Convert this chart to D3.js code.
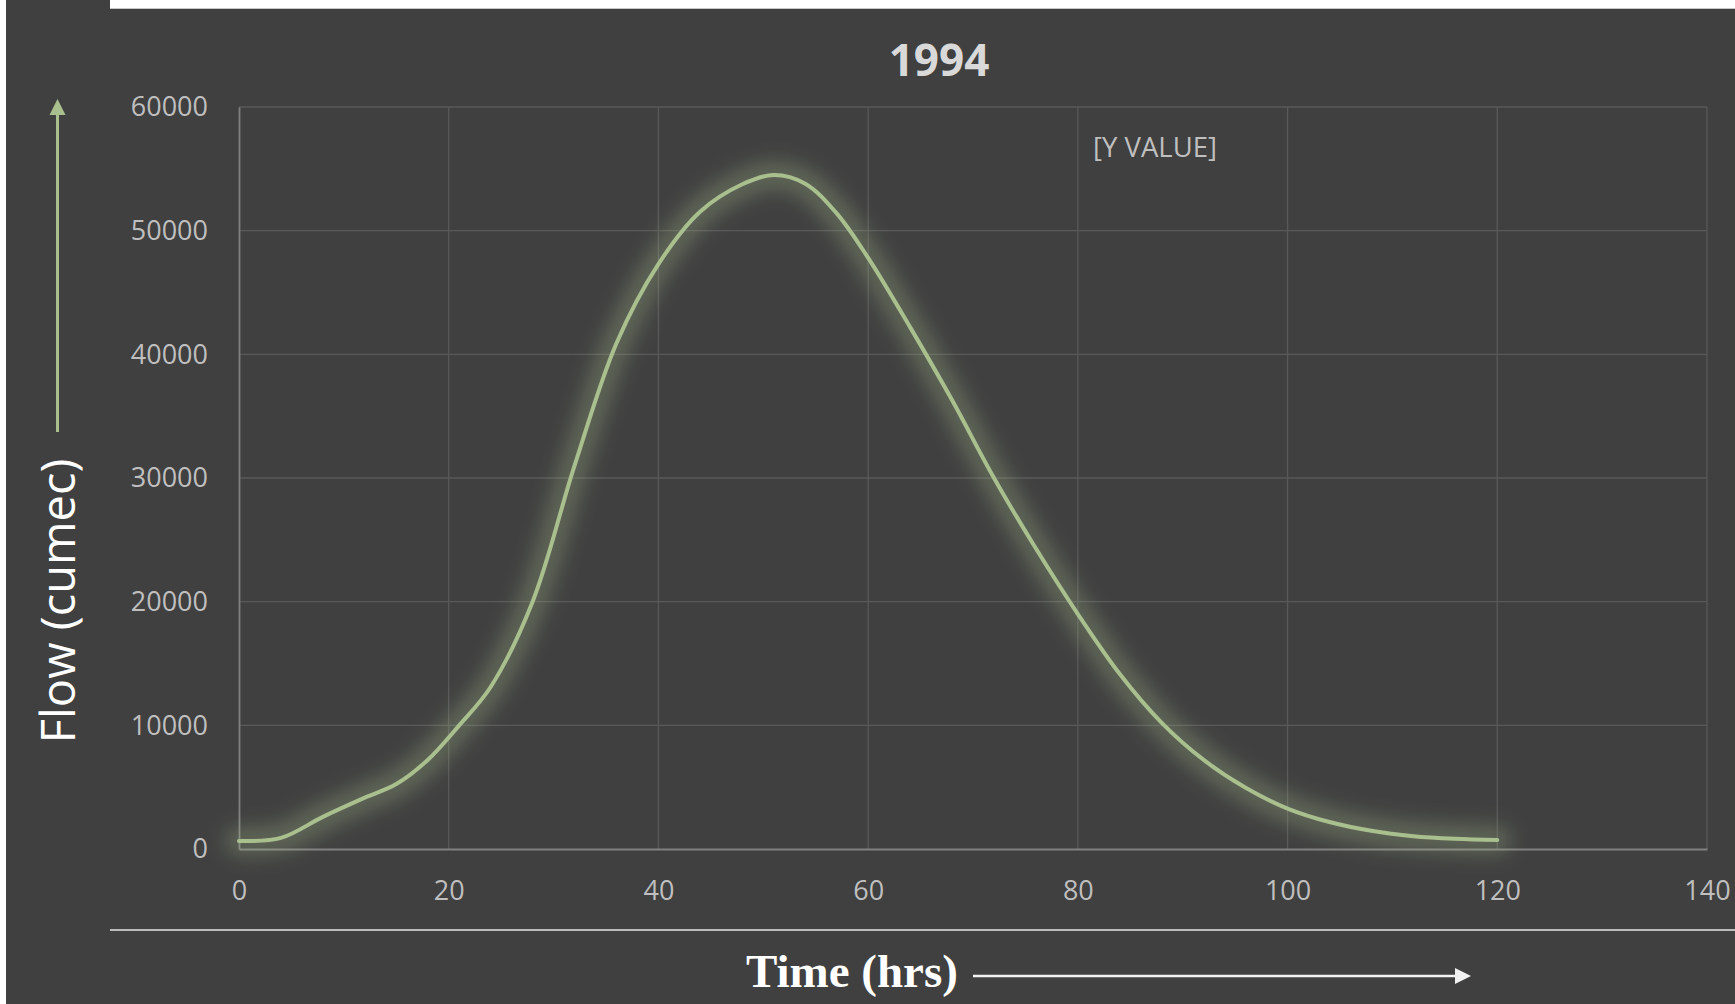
<!DOCTYPE html>
<html>
<head>
<meta charset="utf-8">
<script src="https://cdn.jsdelivr.net/npm/d3@7"></script>
<style>
  html, body { margin: 0; padding: 0; background: #ffffff; }
  svg { display: block; }
</style>
</head>
<body>
<svg id="chart" width="1735" height="1004"></svg>
<script>
// Flood hydrograph, 1994: time since start (hrs) and flow (cumec)
const timeHrs = [0, 4, 8, 12, 15, 18, 21, 24, 28, 32, 36, 40, 44, 48, 51, 54, 57, 60,
                 64, 68, 72, 76, 80, 84, 88, 92, 96, 100, 104, 108, 112, 116, 120];
const flowCumec = [650, 900, 2600, 4150, 5250, 7200, 10000, 13100, 20000, 31000, 40900, 47300,
                   51550, 53750, 54500, 53800, 51400, 47800, 42200, 36300, 30000, 24300, 19000,
                   14150, 10200, 7200, 4950, 3270, 2180, 1470, 1040, 830, 730];

const xTicks = [0, 20, 40, 60, 80, 100, 120, 140];
const yTicks = [0, 10000, 20000, 30000, 40000, 50000, 60000];

const chartTitle = "1994";
const xTitle = "Time (hrs)";
const yTitle = "Flow (cumec)";
const placeholderLabel = "[Y VALUE]";
const placeholderAt = [81.45, 55950];

const svg = d3.select("#chart");
const W = 1735, H = 1004;

// Panel background
svg.append("rect").attr("x", 6).attr("y", 0).attr("width", 104).attr("height", 12).attr("fill", "#404040");
svg.append("rect").attr("x", 6).attr("y", 9).attr("width", W - 6).attr("height", H - 9).attr("fill", "#404040");
svg.append("line").attr("x1", 110).attr("x2", W).attr("y1", 8.5).attr("y2", 8.5)
  .attr("stroke", "#c8c8c8").attr("stroke-width", 1);

const plot = { left: 239, right: 1707, top: 107, bottom: 849 };

const x = d3.scaleLinear().domain([0, 140]).range([plot.left, plot.right]);
const y = d3.scaleLinear().domain([0, 60000]).range([plot.bottom, plot.top]);

const font = "'Open Sans', 'Noto Sans', sans-serif";

// Gridlines
const grid = svg.append("g");
grid.selectAll("line.h").data(yTicks.slice(1)).join("line")
  .attr("x1", plot.left).attr("x2", plot.right)
  .attr("y1", d => y(d)).attr("y2", d => y(d))
  .attr("stroke", "#595959").attr("stroke-width", 1.3);
grid.selectAll("line.v").data(xTicks.slice(1)).join("line")
  .attr("y1", plot.top).attr("y2", plot.bottom)
  .attr("x1", d => x(d)).attr("x2", d => x(d))
  .attr("stroke", "#595959").attr("stroke-width", 1.3);

// Axes
const xAxis = svg.append("g").attr("transform", `translate(0,${plot.bottom})`)
  .call(d3.axisBottom(x).tickValues(xTicks).tickSize(0).tickFormat(d3.format("d")));
xAxis.select(".domain").attr("stroke", "#808080").attr("stroke-width", 1.8);
xAxis.selectAll("text").attr("y", 51).attr("dy", null)
  .attr("fill", "#bfbfbf").style("font-family", font).style("font-size", "27px");

const yAxis = svg.append("g").attr("transform", `translate(${plot.left},0)`)
  .call(d3.axisLeft(y).tickValues(yTicks).tickSize(0).tickFormat(d3.format("d")));
yAxis.select(".domain").attr("stroke", "#808080").attr("stroke-width", 1.8);
yAxis.selectAll("text").attr("x", -31).attr("dy", "0.33em")
  .attr("fill", "#bfbfbf").style("font-family", font).style("font-size", "27px");

// Series line with soft glow
const defs = svg.append("defs");
const glow = defs.append("filter").attr("id", "glow")
  .attr("x", "-10%").attr("y", "-10%").attr("width", "120%").attr("height", "120%");
glow.append("feGaussianBlur").attr("stdDeviation", 10);

const data = timeHrs.map((t, i) => [t, flowCumec[i]]);
const line = d3.line().x(d => x(d[0])).y(d => y(d[1])).curve(d3.curveCatmullRom.alpha(0.5));

svg.append("path").datum(data).attr("d", line)
  .attr("fill", "none").attr("stroke", "#a9c08e").attr("stroke-opacity", 0.3)
  .attr("stroke-width", 28).attr("stroke-linecap", "round").attr("filter", "url(#glow)");
svg.append("path").datum(data).attr("d", line)
  .attr("fill", "none").attr("stroke", "#a9c08e").attr("stroke-width", 4)
  .attr("stroke-linecap", "round").attr("stroke-linejoin", "round");

// Data label placeholder
svg.append("text").attr("x", x(placeholderAt[0])).attr("y", y(placeholderAt[1]))
  .attr("fill", "#bfbfbf").style("font-family", font).style("font-size", "27.5px")
  .text(placeholderLabel);

// Title
svg.append("text").attr("x", 939).attr("y", 76).attr("text-anchor", "middle")
  .attr("fill", "#d9d9d9").style("font-family", font).style("font-size", "44px")
  .style("font-weight", "bold").text(chartTitle);

// Y-axis title with upward arrow
svg.append("text").attr("transform", "translate(75,601) rotate(-90)")
  .attr("text-anchor", "middle").attr("fill", "#ffffff")
  .style("font-family", font).style("font-size", "47px").text(yTitle);
svg.append("line").attr("x1", 57.5).attr("x2", 57.5).attr("y1", 113).attr("y2", 432)
  .attr("stroke", "#a9c08e").attr("stroke-width", 3);
svg.append("path").attr("d", "M57.5,99 L65.5,115 L49.5,115 Z").attr("fill", "#a9c08e");

// Bottom separator and x-axis title with rightward arrow
svg.append("line").attr("x1", 110).attr("x2", W).attr("y1", 930).attr("y2", 930)
  .attr("stroke", "#e6e6e6").attr("stroke-width", 1.5);
svg.append("text").attr("x", 746).attr("y", 987)
  .attr("fill", "#ffffff").style("font-family", "'Liberation Serif', 'Times New Roman', serif")
  .style("font-size", "47px").style("font-weight", "bold").text(xTitle);
svg.append("line").attr("x1", 973).attr("x2", 1457).attr("y1", 976).attr("y2", 976)
  .attr("stroke", "#f2f2f2").attr("stroke-width", 2.5);
svg.append("path").attr("d", "M1471,976 L1455,968 L1455,984 Z").attr("fill", "#f2f2f2");
</script>
</body>
</html>
